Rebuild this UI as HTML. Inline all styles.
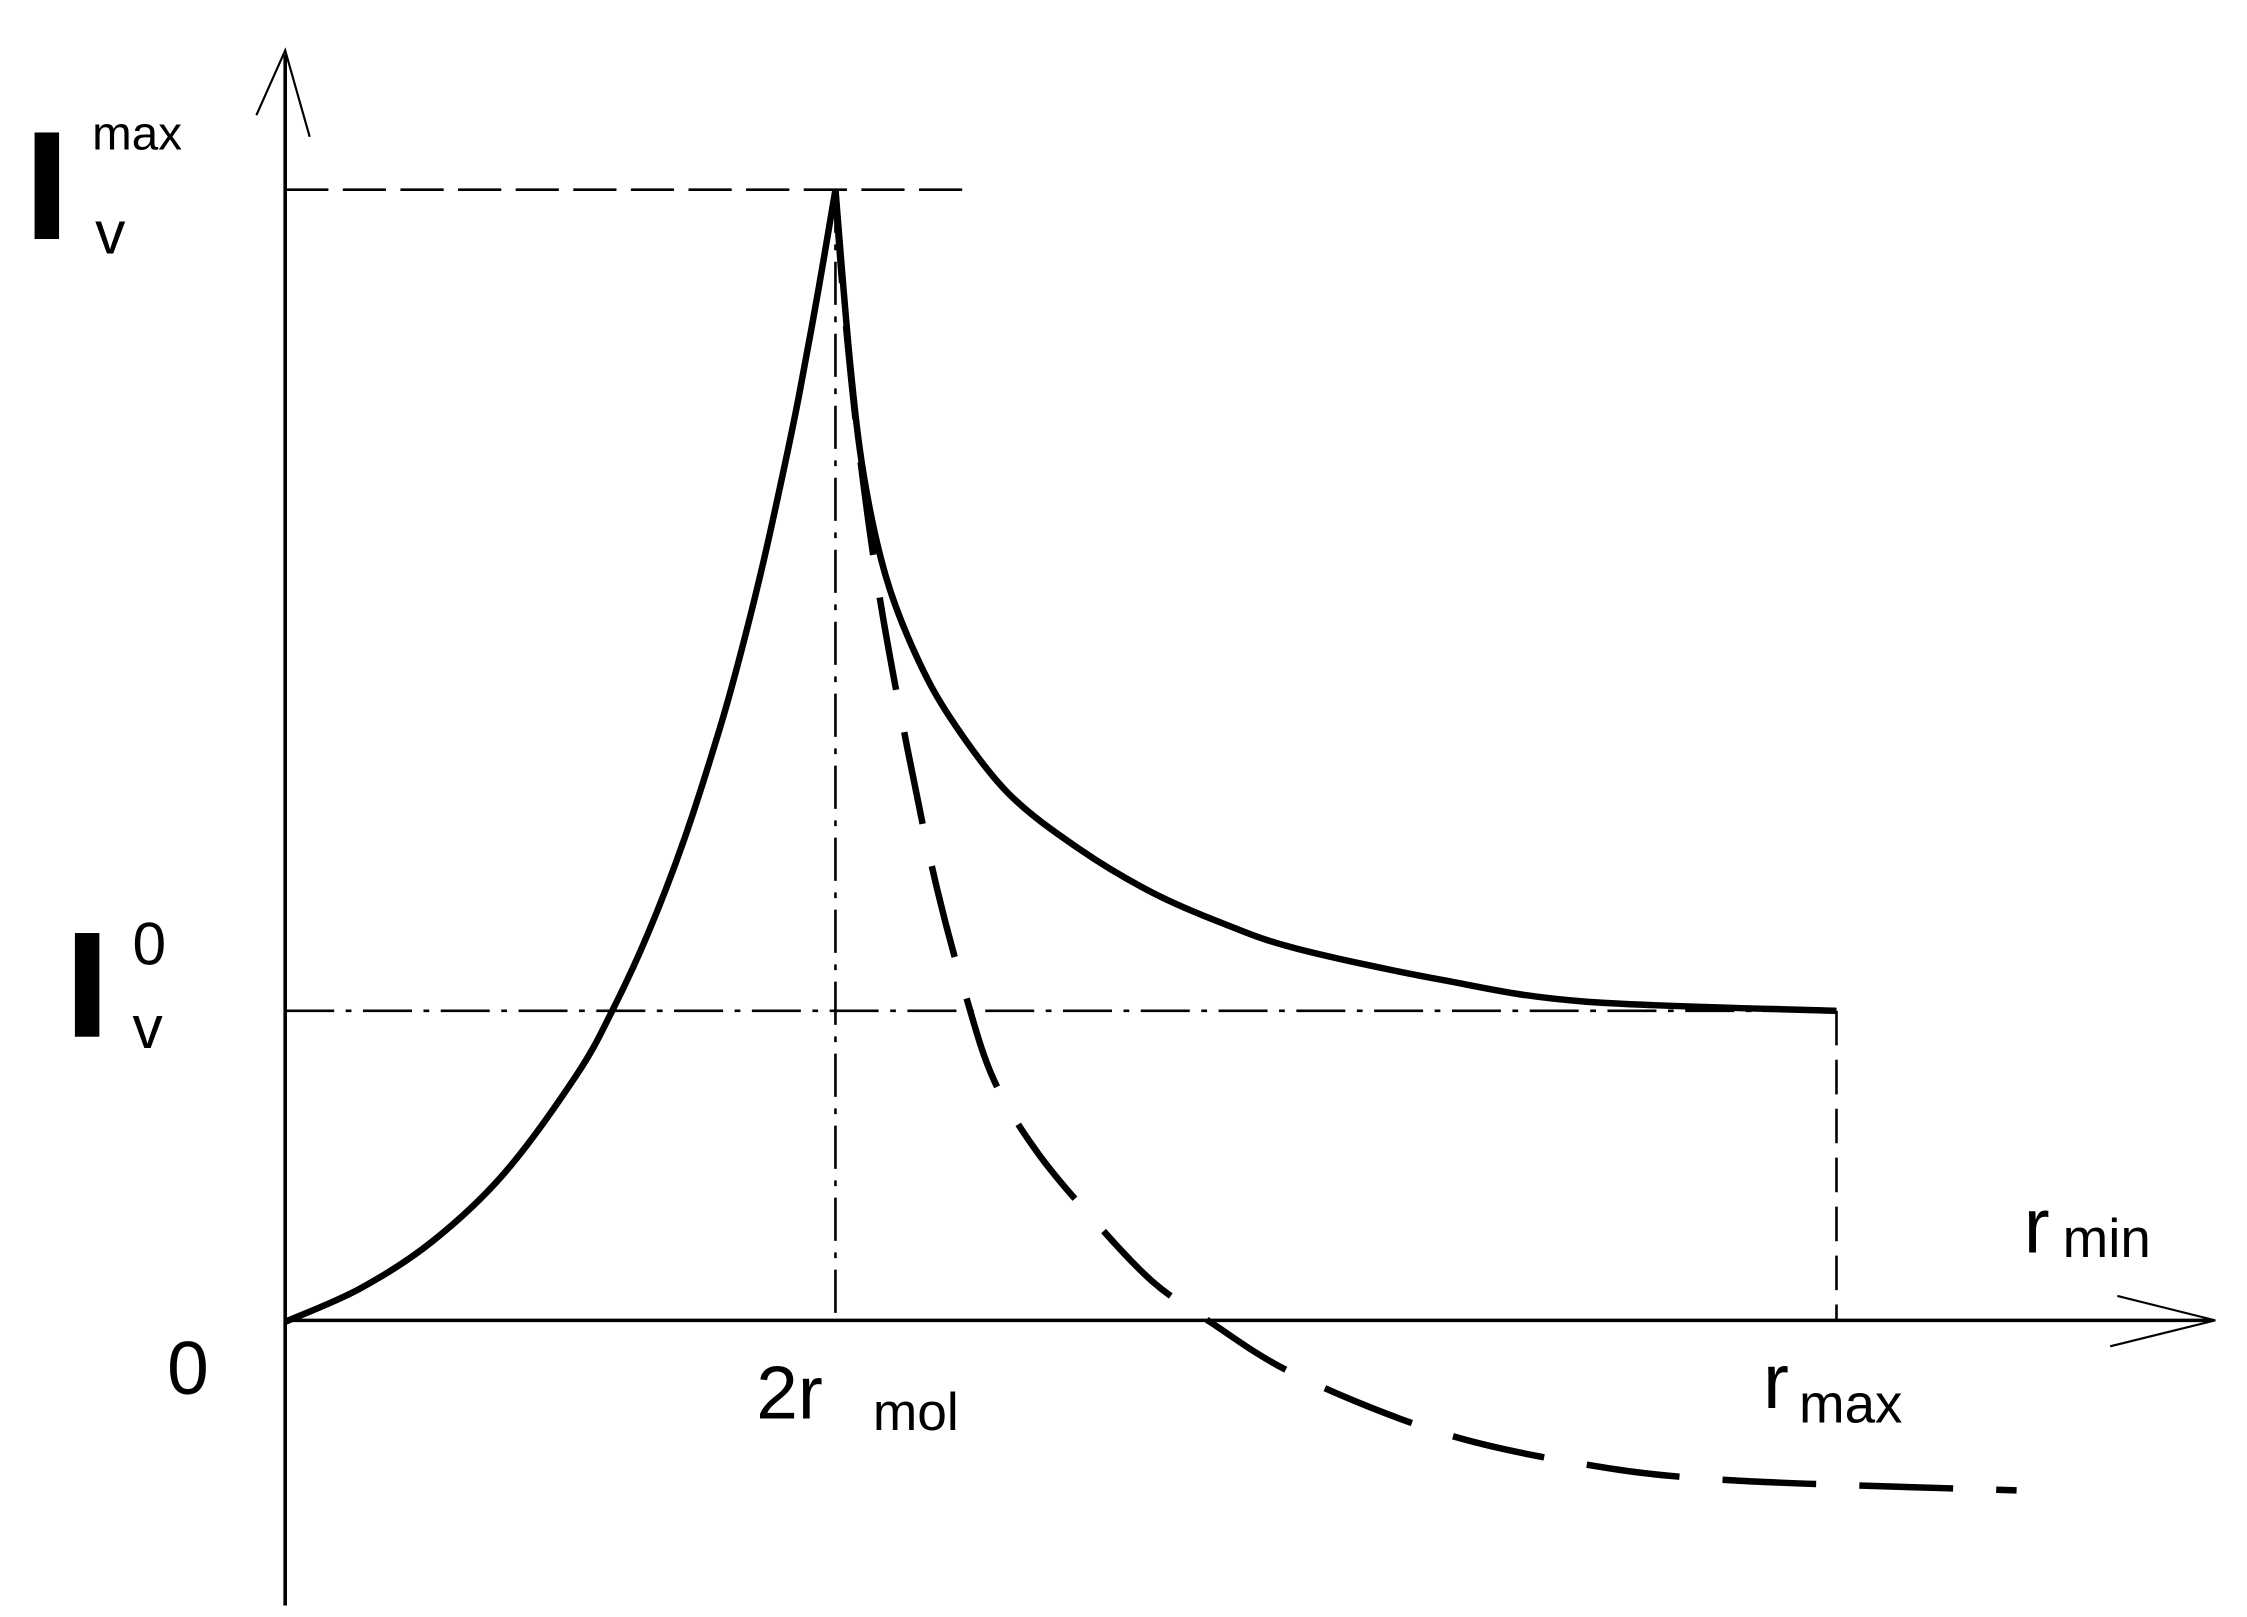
<!DOCTYPE html>
<html><head><meta charset="utf-8"><style>
html,body{margin:0;padding:0;background:#fff;}
svg{display:block;}
text{font-family:"Liberation Sans",sans-serif;fill:#000;}
</style></head><body>
<svg id="chart" width="2247" height="1617" viewBox="0 0 1560 1123" preserveAspectRatio="none" xmlns="http://www.w3.org/2000/svg">
<g id="axes" stroke="#000" fill="none" stroke-width="2.5">
<line x1="198" y1="1115" x2="198" y2="38"/>
<polyline points="178,80 198,35 215,95" stroke-width="1.5"/>
<line x1="198" y1="917" x2="1535" y2="917"/>
<polyline points="1470,900 1538,917 1465,935" stroke-width="1.5"/>
</g>
<g id="refs"></g>
<g id="series"></g>
<g>
<rect x="24" y="92" width="17" height="74" fill="#000"/>
<text x="64" y="104" font-size="33">max</text>
<text x="66" y="176" font-size="42">v</text>
<rect x="52" y="648" width="17" height="72" fill="#000"/>
<text x="92" y="670" font-size="42">0</text>
<text x="92" y="728" font-size="42">v</text>
<text x="116" y="968" font-size="52">0</text>
<text x="525" y="985" font-size="52">2r</text>
<text x="606" y="993" font-size="37">mol</text>
<text x="1224" y="978" font-size="54">r</text>
<text x="1249" y="988" font-size="38">max</text>
<text x="1405" y="870" font-size="54">r</text>
<text x="1432" y="873" font-size="38">min</text>
</g>
</svg>
<script>
const rMol = 3.547;
const rMax = 10;
const iZero = 1;
const iMax = 3.64;
const leftX = [0,0.483,0.947,1.411,1.876,2.108,2.340,2.572,2.804,2.943,3.083,3.222,3.315,3.436,3.547];
const leftY = [0,0.107,0.258,0.477,0.792,1.0,1.25,1.551,1.912,2.162,2.444,2.759,2.986,3.315,3.64];
const rightX = [3.547,3.64,3.73,3.87,4.06,4.29,4.66,5.12,5.59,6.05,6.52,7.45,8.37,10];
const rightY = [3.64,3.09,2.72,2.40,2.15,1.94,1.70,1.52,1.38,1.28,1.20,1.10,1.03,1.0];
const dashX = [3.547,3.593,3.686,3.825,4.011,4.197,4.383,4.568,4.847,5.218,5.590,5.961,6.518,7.447,8.375,9.304,11.161];
const dashY = [3.64,3.324,2.861,2.352,1.843,1.403,1.056,0.778,0.546,0.324,0.130,0,-0.171,-0.356,-0.458,-0.509,-0.542];

const NS='http://www.w3.org/2000/svg';
const sx = r => 198 + r*107.7;
const sy = v => 918 - v*216;
function smoothPath(xs, ys){
  const p = xs.map((x,i)=>[sx(x),sy(ys[i])]);
  let d='M'+p[0][0]+','+p[0][1];
  const t=1/6;
  for(let i=1;i<p.length;i++){
    const p0=p[i-2]||p[i-1], p1=p[i-1], p2=p[i], p3=p[i+1]||p[i];
    d+=' C'+(p1[0]+(p2[0]-p0[0])*t)+','+(p1[1]+(p2[1]-p0[1])*t)+' '+(p2[0]-(p3[0]-p1[0])*t)+','+(p2[1]-(p3[1]-p1[1])*t)+' '+p2[0]+','+p2[1];
  }
  return d;
}
const refs=document.getElementById('refs');
function line(name,x1,y1,x2,y2,dash){
  const l=document.createElementNS(NS,'line');
  l.setAttribute('x1',x1);l.setAttribute('y1',y1);l.setAttribute('x2',x2);l.setAttribute('y2',y2);
  l.setAttribute('stroke','#000');l.setAttribute('stroke-width','1.8');l.setAttribute('stroke-dasharray',dash);
  
  
  refs.appendChild(l);
}
line('imax-guide',sx(0),sy(iMax),sx(rMol)+95,sy(iMax),'30,10');
line('i0-guide',sx(0),sy(iZero),sx(rMax),sy(iZero),'34,8,4,8');
line('rmol-guide',sx(rMol),sy(iMax),sx(rMol),sy(0),'30,8,4,8');
line('rmax-guide',sx(rMax),sy(iZero),sx(rMax),sy(0),'24,10');
const ser=document.getElementById('series');
function curve(name,xs,ys,dash){
  const s=document.createElementNS(NS,'path');
  s.setAttribute('d',smoothPath(xs,ys));
  s.setAttribute('fill','none');s.setAttribute('stroke','#000');s.setAttribute('stroke-width','4.5');s.setAttribute('stroke-linejoin','round');
  if(dash) s.setAttribute('stroke-dasharray',dash);
  
  
  ser.appendChild(s);
}
curve('solid-curve-rising',leftX,leftY,null);
curve('solid-curve-falling',rightX,rightY,null);
curve('dashed-curve',dashX,dashY,'65,30');
</script>
</body></html>
